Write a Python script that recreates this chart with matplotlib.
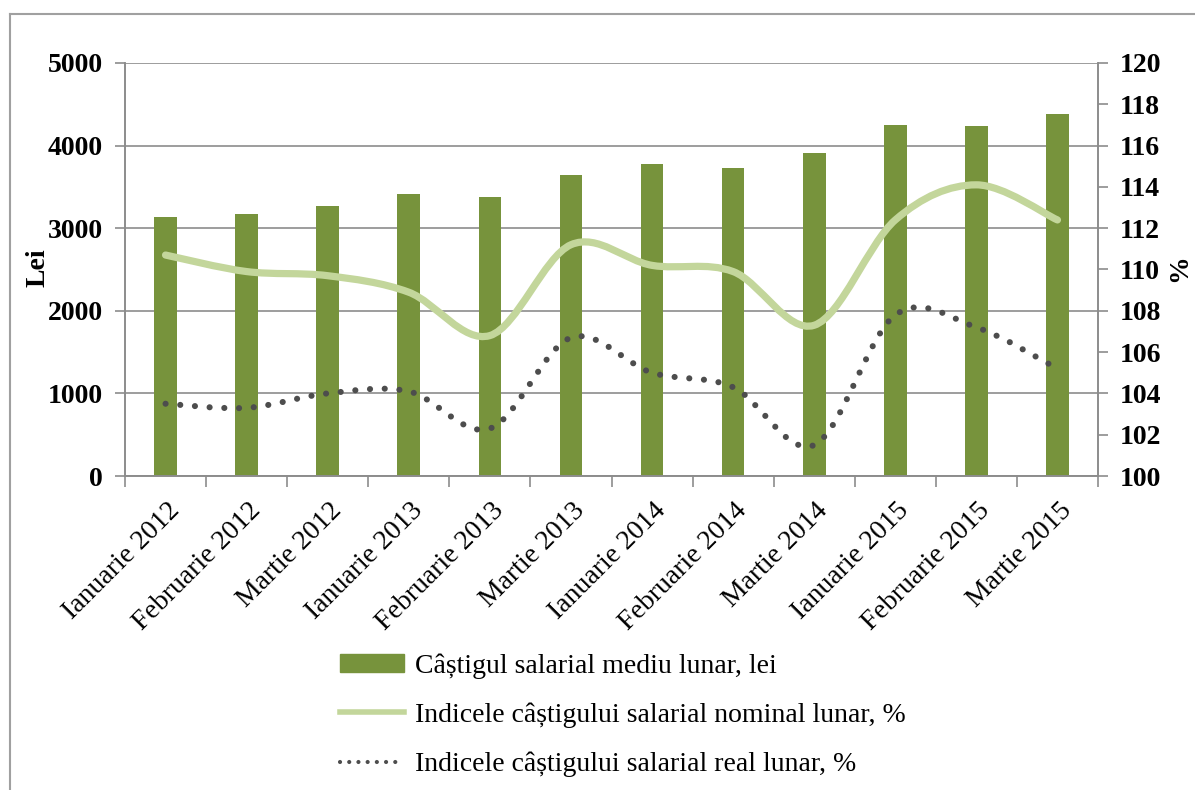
# Castigul salarial: bars + two smoothed index lines on a second axis

import numpy as np
import matplotlib
matplotlib.use("Agg")
import matplotlib.pyplot as plt
import matplotlib.transforms as mtransforms
from matplotlib.path import Path
from matplotlib.patches import PathPatch, Rectangle
from matplotlib.lines import Line2D

plt.rcParams['font.family'] = ['Liberation Serif', 'DejaVu Serif']

categories = ["Ianuarie 2012", "Februarie 2012", "Martie 2012",
              "Ianuarie 2013", "Februarie 2013", "Martie 2013",
              "Ianuarie 2014", "Februarie 2014", "Martie 2014",
              "Ianuarie 2015", "Februarie 2015", "Martie 2015"]

salary_lei = [3130, 3170, 3270, 3415, 3380, 3645, 3775, 3730, 3915, 4255, 4235, 4385]
nominal_idx = [110.7, 109.9, 109.7, 108.9, 106.8, 111.2, 110.2, 109.9, 107.3, 112.4, 114.1, 112.4]
real_idx = [103.5, 103.3, 104.0, 104.1, 102.3, 106.7, 105.0, 104.3, 101.5, 107.8, 107.2, 105.2]

BAR_COLOR = "#77933C"
NOM_COLOR = "#C3D69B"
REAL_COLOR = "#4D4D4D"
GRID_COLOR = "#8C8C8C"
FS = 20


def smooth_path(xs, ys):
    # Excel-like smoothed line: cubic bezier segments through the points
    pts = np.column_stack([xs, ys]).astype(float)
    n = len(pts)
    verts = [pts[0]]
    codes = [Path.MOVETO]
    for i in range(n - 1):
        p0 = pts[i - 1] if i > 0 else pts[i]
        p1 = pts[i]
        p2 = pts[i + 1]
        p3 = pts[i + 2] if i + 2 < n else pts[i + 1]
        c1 = p1 + (p2 - p0) / 6.0
        c2 = p2 - (p3 - p1) / 6.0
        verts += [c1, c2, p2]
        codes += [Path.CURVE4] * 3
    return Path(verts, codes)


fig = plt.figure(figsize=(11.95, 7.9), dpi=100)
ax = fig.add_axes([125 / 1195, 1 - 476 / 790, (1098 - 125) / 1195, (476 - 63) / 790])
ax2 = ax.twinx()

x = np.arange(len(categories))
ax.bar(x, salary_lei, width=0.28, color=BAR_COLOR, zorder=2)

ax.set_ylim(0, 5000)
ax.set_yticks(range(0, 5001, 1000))
ax.set_xlim(-0.5, len(categories) - 0.5)
ax.yaxis.grid(True, color=GRID_COLOR, linewidth=1.2, zorder=0)
ax.set_axisbelow(True)

ax2.set_ylim(100, 120)
ax2.set_yticks(range(100, 121, 2))

nom = PathPatch(smooth_path(x, nominal_idx), facecolor="none", edgecolor=NOM_COLOR,
                linewidth=5.2, capstyle="round", joinstyle="round", zorder=3)
ax2.add_patch(nom)
real = PathPatch(smooth_path(x, real_idx), facecolor="none", edgecolor=REAL_COLOR,
                 linewidth=4.4, linestyle=(0, (0.01, 2.4)), capstyle="round", zorder=4)
ax2.add_patch(real)

for a in (ax, ax2):
    a.spines['top'].set_visible(False)
    for s in ('left', 'right', 'bottom'):
        a.spines[s].set_color(GRID_COLOR)
        a.spines[s].set_linewidth(1.2)
    a.tick_params(axis='y', colors=GRID_COLOR, length=7, width=1.2, pad=9,
                  labelsize=FS, labelcolor='black')

for lab in ax.get_yticklabels() + ax2.get_yticklabels():
    lab.set_fontweight('bold')

# category ticks sit at the boundaries, labels at the centres
ax.set_xticks(np.arange(-0.5, len(categories), 1.0))
ax.set_xticklabels([])
ax.tick_params(axis='x', colors=GRID_COLOR, length=8, width=1.2, direction='out')
ax.set_xticks(x, minor=True)
ax.set_xticklabels(categories, minor=True, rotation=45, ha='right', va='center',
                   rotation_mode='anchor', fontsize=FS)
ax.tick_params(axis='x', which='minor', length=0, pad=22, labelcolor='black')
shift = mtransforms.ScaledTranslation(10 / 100, 0, fig.dpi_scale_trans)
for lab in ax.get_xticklabels(minor=True):
    lab.set_transform(lab.get_transform() + shift)

fig.text(38 / 1195, 1 - 268 / 790, "Lei", rotation=90, ha='center', va='center',
         fontsize=FS, fontweight='bold')
fig.text(1180 / 1195, 1 - 268 / 790, "%", rotation=90, ha='center', va='center',
         fontsize=FS, fontweight='bold')

handles = [Rectangle((0, 0), 1, 1, color=BAR_COLOR),
           Line2D([], [], color=NOM_COLOR, linewidth=4),
           Line2D([], [], color=REAL_COLOR, linewidth=3, linestyle=(0, (0.01, 2.2)),
                  dash_capstyle='round')]
labels = ["Câștigul salarial mediu lunar, lei",
          "Indicele câștigului salarial nominal lunar, %",
          "Indicele câștigului salarial real lunar, %"]
fig.legend(handles, labels, loc='upper left', bbox_to_anchor=(329 / 1195, 1 - 642 / 790),
           frameon=False, fontsize=FS, handlelength=2.3, handleheight=0.6,
           handletextpad=0.4, labelspacing=0.85, borderaxespad=0)

# outer chart-area border (only top and left fall inside the picture)
fig.add_artist(Line2D([10 / 1195, 10 / 1195], [0, 1 - 14 / 790], transform=fig.transFigure,
                      color="#A0A0A0", linewidth=1.5))
fig.add_artist(Line2D([10 / 1195, 1], [1 - 14 / 790, 1 - 14 / 790], transform=fig.transFigure,
                      color="#A0A0A0", linewidth=1.5))

plt.savefig('out.png', dpi=100)
